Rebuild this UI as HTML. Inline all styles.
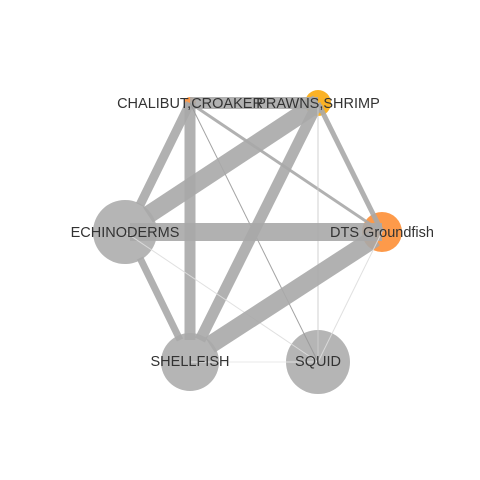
<!DOCTYPE html>
<html><head><style>body{margin:0;background:#fff}svg{display:block}</style></head><body>
<svg width="480" height="480" xmlns="http://www.w3.org/2000/svg">
<rect width="480" height="480" fill="#fff"/>
<circle cx="190" cy="103" r="6" fill="#fd9a4a"/>
<circle cx="318" cy="103" r="13" fill="#fbb225"/>
<circle cx="125" cy="232" r="32" fill="#b5b5b5"/>
<circle cx="382" cy="232" r="20" fill="#fd9a4a"/>
<circle cx="190" cy="362" r="29" fill="#b5b5b5"/>
<circle cx="318" cy="362" r="32" fill="#b5b5b5"/>
<g stroke="#a8a8a8" stroke-opacity="0.9" fill="none">
<line x1="190" y1="103" x2="318" y2="103" stroke-width="12"/>
<line x1="190" y1="103" x2="140" y2="205" stroke-width="9"/>
<line x1="190" y1="103" x2="190" y2="340" stroke-width="11"/>
<line x1="190" y1="103" x2="382" y2="232" stroke-width="3"/>
<line x1="190" y1="103" x2="318" y2="362" stroke-width="1" stroke="#999"/>
<line x1="318" y1="103" x2="148" y2="215" stroke-width="18"/>
<line x1="318" y1="103" x2="200" y2="340" stroke-width="11"/>
<line x1="318" y1="103" x2="382" y2="232" stroke-width="5"/>
<line x1="318" y1="103" x2="318" y2="362" stroke-width="1" stroke="#ccc"/>
<line x1="130" y1="232" x2="382" y2="232" stroke-width="18"/>
<line x1="140" y1="258" x2="180" y2="340" stroke-width="7"/>
<line x1="125" y1="232" x2="318" y2="362" stroke-width="1" stroke="#ddd"/>
<line x1="375" y1="238" x2="210" y2="345" stroke-width="18"/>
<line x1="382" y1="232" x2="318" y2="362" stroke-width="1" stroke="#ddd"/>
<line x1="190" y1="362" x2="318" y2="362" stroke-width="1" stroke="#e5e5e5"/>
</g>
<g font-family="Liberation Sans, sans-serif" font-size="14.5" fill="#333" text-anchor="middle" dominant-baseline="central">
<text x="190" y="104">CHALIBUT,CROAKER</text>
<text x="318" y="104">PRAWNS,SHRIMP</text>
<text x="125" y="233">ECHINODERMS</text>
<text x="382" y="233">DTS Groundfish</text>
<text x="190" y="362">SHELLFISH</text>
<text x="318" y="362">SQUID</text>
</g>
</svg>
</body></html>
